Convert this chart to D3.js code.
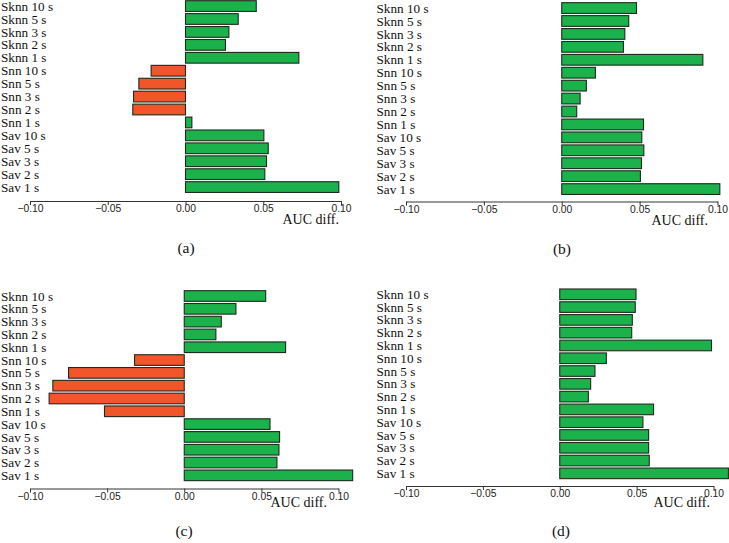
<!DOCTYPE html>
<html>
<head>
<meta charset="utf-8">
<script src="https://cdn.jsdelivr.net/npm/d3@7"></script>
<style>
  body { margin: 0; background: #fff; }
  svg { display: block; }
  .lab { font-family: "Liberation Serif", "DejaVu Serif", serif; font-size: 13.2px; fill: #111; }
  .tick text { font-family: "Liberation Sans", Arial, sans-serif; font-size: 10.3px; fill: #222; }
  .cap { font-family: "Liberation Serif", serif; font-size: 15.5px; fill: #111; }
  .xlab { font-family: "Liberation Serif", serif; font-size: 14px; fill: #111; }
</style>
</head>
<body>
<div id="chart"></div>
<script>
// row labels, top to bottom
var categories = ["Sknn 10 s", "Sknn 5 s", "Sknn 3 s", "Sknn 2 s", "Sknn 1 s",
  "Snn 10 s", "Snn 5 s", "Snn 3 s", "Snn 2 s", "Snn 1 s",
  "Sav 10 s", "Sav 5 s", "Sav 3 s", "Sav 2 s", "Sav 1 s"];

// AUC difference per row, one array per sub-figure
var valuesA = [0.0455, 0.0339, 0.0279, 0.0257, 0.0729, -0.0221, -0.0300, -0.0334, -0.0339, 0.0041, 0.0504, 0.0532, 0.0521, 0.0510, 0.0986];
var valuesB = [0.0480, 0.0430, 0.0405, 0.0396, 0.0906, 0.0216, 0.0158, 0.0118, 0.0096, 0.0525, 0.0514, 0.0527, 0.0512, 0.0505, 0.1015];
var valuesC = [0.0528, 0.0335, 0.0240, 0.0205, 0.0657, -0.0322, -0.0750, -0.0852, -0.0876, -0.0517, 0.0556, 0.0618, 0.0614, 0.0601, 0.1092];
var valuesD = [0.0496, 0.0491, 0.0472, 0.0468, 0.0987, 0.0303, 0.0229, 0.0201, 0.0186, 0.0610, 0.0541, 0.0578, 0.0578, 0.0582, 0.1097];

var tickValues = [-0.10, -0.05, 0.00, 0.05, 0.10];
var tickLabels = ["\u22120.10", "\u22120.05", "0.00", "0.05", "0.10"];
var captions = ["(a)", "(b)", "(c)", "(d)"];
var xTitle = "AUC diff.";

var svg = d3.select("#chart").append("svg")
  .attr("width", 729)
  .attr("height", 543);

// layout of the four panels
var panels = [
  { vals: valuesA, x0: 30, x1: 341, bandTop: -0.4, step: 12.93, axisY: 201, labX: 1, titleX: 339, titleY: 224, capX: 186, capY: 253 },
  { vals: valuesB, x0: 406, x1: 717.5, bandTop: 1.6, step: 12.93, axisY: 201.5, labX: 376.5, titleX: 708, titleY: 225, capX: 562, capY: 254 },
  { vals: valuesC, x0: 30, x1: 338.5, bandTop: 289.6, step: 12.81, axisY: 488.5, labX: 1, titleX: 327, titleY: 507, capX: 184, capY: 536 },
  { vals: valuesD, x0: 406, x1: 713.5, bandTop: 287.9, step: 12.79, axisY: 486, labX: 376.5, titleX: 710, titleY: 507, capX: 561, capY: 536 }
];

panels.forEach(function (p, k) {
  var g = svg.append("g");

  var x = d3.scaleLinear()
    .domain([-0.10, 0.10])
    .range([p.x0, p.x1]);

  var y = d3.scaleBand()
    .domain(categories)
    .range([p.bandTop, p.bandTop + 15 * p.step])
    .paddingInner(0.17)
    .paddingOuter(0.085);

  var rows = categories.map(function (c, i) {
    return { cat: c, val: p.vals[i] };
  });

  g.selectAll(".bar")
    .data(rows)
    .enter()
    .append("rect")
    .attr("class", "bar")
    .attr("x", function (d) { return x(Math.min(0, d.val)); })
    .attr("y", function (d) { return y(d.cat); })
    .attr("width", function (d) { return Math.abs(x(d.val) - x(0)); })
    .attr("height", y.bandwidth())
    .style("fill", function (d) { return d.val < 0 ? "#f1562b" : "#1bb14b"; })
    .style("stroke", "#1e2a1e")
    .style("stroke-width", 1.1);

  g.selectAll(".lab")
    .data(rows)
    .enter()
    .append("text")
    .attr("class", "lab")
    .attr("x", p.labX)
    .attr("y", function (d) { return y(d.cat) + y.bandwidth() / 2; })
    .attr("dy", "0.35em")
    .text(function (d) { return d.cat; });

  var xAxis = d3.axisBottom(x)
    .tickValues(tickValues)
    .tickFormat(function (d, i) { return tickLabels[i]; })
    .tickSize(4)
    .tickSizeOuter(0)
    .tickPadding(0);

  var ax = g.append("g")
    .attr("transform", "translate(0," + p.axisY + ")")
    .call(xAxis);
  ax.select(".domain").attr("stroke", "#333");
  ax.selectAll(".tick line").attr("stroke", "#333");

  g.append("text")
    .attr("class", "xlab")
    .attr("x", p.titleX)
    .attr("y", p.titleY)
    .attr("text-anchor", "end")
    .text(xTitle);

  g.append("text")
    .attr("class", "cap")
    .attr("x", p.capX)
    .attr("y", p.capY)
    .attr("text-anchor", "middle")
    .text(captions[k]);
});
</script>
</body>
</html>
